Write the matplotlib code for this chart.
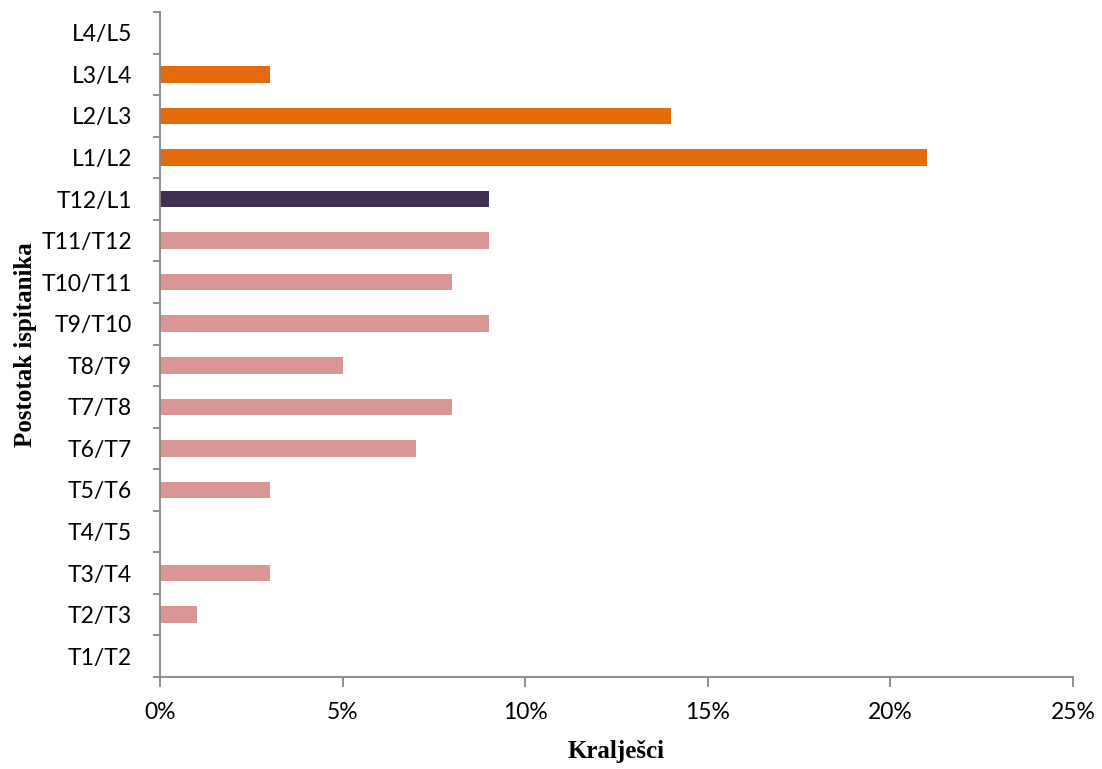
import matplotlib
matplotlib.use('Agg')
import matplotlib.pyplot as plt
from matplotlib.ticker import FixedLocator, PercentFormatter

# data
segments = ['T1/T2', 'T2/T3', 'T3/T4', 'T4/T5', 'T5/T6', 'T6/T7', 'T7/T8', 'T8/T9',
            'T9/T10', 'T10/T11', 'T11/T12', 'T12/L1', 'L1/L2', 'L2/L3', 'L3/L4', 'L4/L5']
percent = [0, 1, 3, 0, 3, 7, 8, 5, 9, 8, 9, 9, 21, 14, 3, 0]
region = ['T'] * 11 + ['TL'] + ['L'] * 4

colors = {'T': '#D99694', 'TL': '#403152', 'L': '#E36C0A'}
axis_grey = '#868686'

fig = plt.figure(figsize=(11.02, 7.69), dpi=100)
ax = fig.add_axes([0.1452, 0.1196, 0.8285, 0.8648])

pos = list(range(len(segments)))
ax.barh(pos, percent, height=0.4, color=[colors[r] for r in region])

ax.set_xlim(0, 25)
ax.set_ylim(-0.5, len(segments) - 0.5)
ax.set_xticks([0, 5, 10, 15, 20, 25])
ax.xaxis.set_major_formatter(PercentFormatter(decimals=0))
ax.set_yticks(pos)
ax.set_yticklabels(segments)
# tick marks sit between categories
ax.yaxis.set_minor_locator(FixedLocator([p - 0.5 for p in pos] + [len(segments) - 0.5]))
ax.tick_params(axis='y', which='major', length=0, pad=20)
ax.tick_params(axis='y', which='minor', length=5, width=1.3, color=axis_grey)
ax.tick_params(axis='x', length=7, width=1.3, color=axis_grey, pad=11)

for lab in ax.get_xticklabels() + ax.get_yticklabels():
    lab.set_fontfamily('Lato')
    lab.set_fontsize(16.5)

for side in ['top', 'right']:
    ax.spines[side].set_visible(False)
for side in ['left', 'bottom']:
    ax.spines[side].set_color(axis_grey)
    ax.spines[side].set_linewidth(1.3)

ax.set_xlabel('Kralješci', fontfamily='Liberation Serif', fontweight='bold', fontsize=18, labelpad=12)
ax.set_ylabel('Postotak ispitanika', fontfamily='Liberation Serif', fontweight='bold', fontsize=18, labelpad=3)

fig.savefig('out.png', dpi=100)
